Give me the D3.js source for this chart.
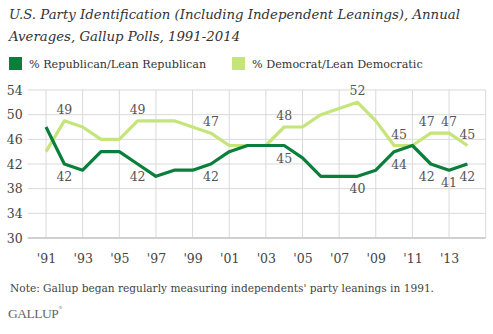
<!DOCTYPE html>
<html>
<head>
<meta charset="utf-8">
<script src="https://cdn.jsdelivr.net/npm/d3@7"></script>
<style>
  body { margin: 0; background: #fff; }
  svg { display: block; }
</style>
</head>
<body>
<div id="chart"></div>
<script>
// annual averages, 1991-2014
var years = d3.range(1991, 2015);
var republican = [48, 42, 41, 44, 44, 42, 40, 41, 41, 42, 44, 45, 45, 45, 43, 40, 40, 40, 41, 44, 45, 42, 41, 42];
var democrat = [44, 49, 48, 46, 46, 49, 49, 49, 48, 47, 45, 45, 45, 48, 48, 50, 51, 52, 49, 45, 45, 47, 47, 45];
var labelYears = [1992, 1996, 2000, 2004, 2008, 2010, 2012, 2013, 2014];
var yTicks = [30, 34, 38, 42, 46, 50, 54];
var xTicks = [1991, 1993, 1995, 1997, 1999, 2001, 2003, 2005, 2007, 2009, 2011, 2013];

var width = 493, height = 334;
var repColor = "#0a7f3c", demColor = "#c5e47a";
var serif = "Georgia, 'DejaVu Serif', serif";

var svg = d3.select("#chart").append("svg")
  .attr("width", width)
  .attr("height", height);

var x = d3.scaleLinear().domain([1990, 2015]).range([27.7, 485.7]);
var y = d3.scaleLinear().domain([30, 54]).range([238, 90]);

/* title */
var title = svg.append("text")
  .attr("font-family", serif)
  .attr("font-style", "italic")
  .attr("font-size", "13.3px")
  .attr("fill", "#333");
title.append("tspan").attr("x", 9).attr("y", 19).text("U.S. Party Identification (Including Independent Leanings), Annual");
title.append("tspan").attr("x", 9).attr("y", 41).text("Averages, Gallup Polls, 1991-2014");

/* legend */
var legend = [
  { name: "% Republican/Lean Republican", color: repColor, x: 9 },
  { name: "% Democrat/Lean Democratic", color: demColor, x: 232 }
];
var lg = svg.selectAll(".legend").data(legend).enter().append("g")
  .attr("transform", d => `translate(${d.x}, 57)`);
lg.append("rect").attr("width", 13).attr("height", 13).attr("fill", d => d.color);
lg.append("text")
  .attr("x", 20).attr("y", 11)
  .attr("font-family", serif)
  .attr("font-size", "11.2px")
  .attr("fill", "#333")
  .text(d => d.name);

/* grid */
svg.append("g").selectAll("line").data(yTicks.slice(1)).enter().append("line")
  .attr("x1", x.range()[0]).attr("x2", x.range()[1])
  .attr("y1", d => y(d)).attr("y2", d => y(d))
  .attr("stroke", "#d9d9d9").attr("stroke-width", 1);

svg.append("g").selectAll("line").data(xTicks.concat([2015])).enter().append("line")
  .attr("x1", d => x(d)).attr("x2", d => x(d))
  .attr("y1", y(54)).attr("y2", y(30))
  .attr("stroke", "#d9d9d9").attr("stroke-width", 1);

// base axis line
svg.append("line")
  .attr("x1", x.range()[0]).attr("x2", x.range()[1])
  .attr("y1", y(30)).attr("y2", y(30))
  .attr("stroke", "#d0d0cc").attr("stroke-width", 2);

/* axis labels */
var yAxis = d3.axisLeft(y).tickValues(yTicks).tickSize(0).tickPadding(5);
var gy = svg.append("g").attr("transform", `translate(${x.range()[0]}, 0)`).call(yAxis);
gy.select(".domain").remove();
gy.selectAll("text").attr("font-family", serif).attr("font-size", "12.5px").attr("fill", "#444");

var xAxis = d3.axisBottom(x).tickValues(xTicks).tickSize(0).tickPadding(16)
  .tickFormat(d => "'" + String(d).slice(2));
var gx = svg.append("g").attr("transform", `translate(0, ${y(30)})`).call(xAxis);
gx.select(".domain").remove();
gx.selectAll("text").attr("font-family", serif).attr("font-size", "12.5px").attr("fill", "#444");

/* lines */
var line = d3.line()
  .x((d, i) => x(years[i]))
  .y(d => y(d));

svg.append("path").datum(democrat)
  .attr("d", line).attr("fill", "none")
  .attr("stroke", demColor).attr("stroke-width", 3.2).attr("stroke-linejoin", "round");

svg.append("path").datum(republican)
  .attr("d", line).attr("fill", "none")
  .attr("stroke", repColor).attr("stroke-width", 3.2).attr("stroke-linejoin", "round");

/* value labels */
var labels = svg.append("g")
  .attr("font-family", serif)
  .attr("font-size", "12.5px")
  .attr("fill", "#555")
  .attr("text-anchor", "middle");

labelYears.forEach(function(yr) {
  var i = years.indexOf(yr);
  var dx = yr == 2010 ? 5 : (yr == 2012 ? -4 : 0);
  labels.append("text")
    .attr("x", x(yr) + dx).attr("y", y(democrat[i]) - 7)
    .text(democrat[i]);
  labels.append("text")
    .attr("x", x(yr) + dx).attr("y", y(republican[i]) + 17)
    .text(republican[i]);
});

/* note and logo */
svg.append("text")
  .attr("x", 10).attr("y", 292)
  .attr("font-family", serif)
  .attr("font-size", "10.6px")
  .attr("fill", "#444")
  .text("Note: Gallup began regularly measuring independents' party leanings in 1991.");

svg.append("text")
  .attr("x", 8).attr("y", 318)
  .attr("font-family", "'Liberation Serif', 'Times New Roman', serif")
  .attr("font-size", "13.5px")
  .attr("fill", "#666")
  .attr("letter-spacing", "-0.5px")
  .text("GALLUP");
svg.append("text")
  .attr("x", 58.5).attr("y", 309)
  .attr("font-family", serif)
  .attr("font-size", "4px")
  .attr("fill", "#666")
  .text("®");
</script>
</body>
</html>
